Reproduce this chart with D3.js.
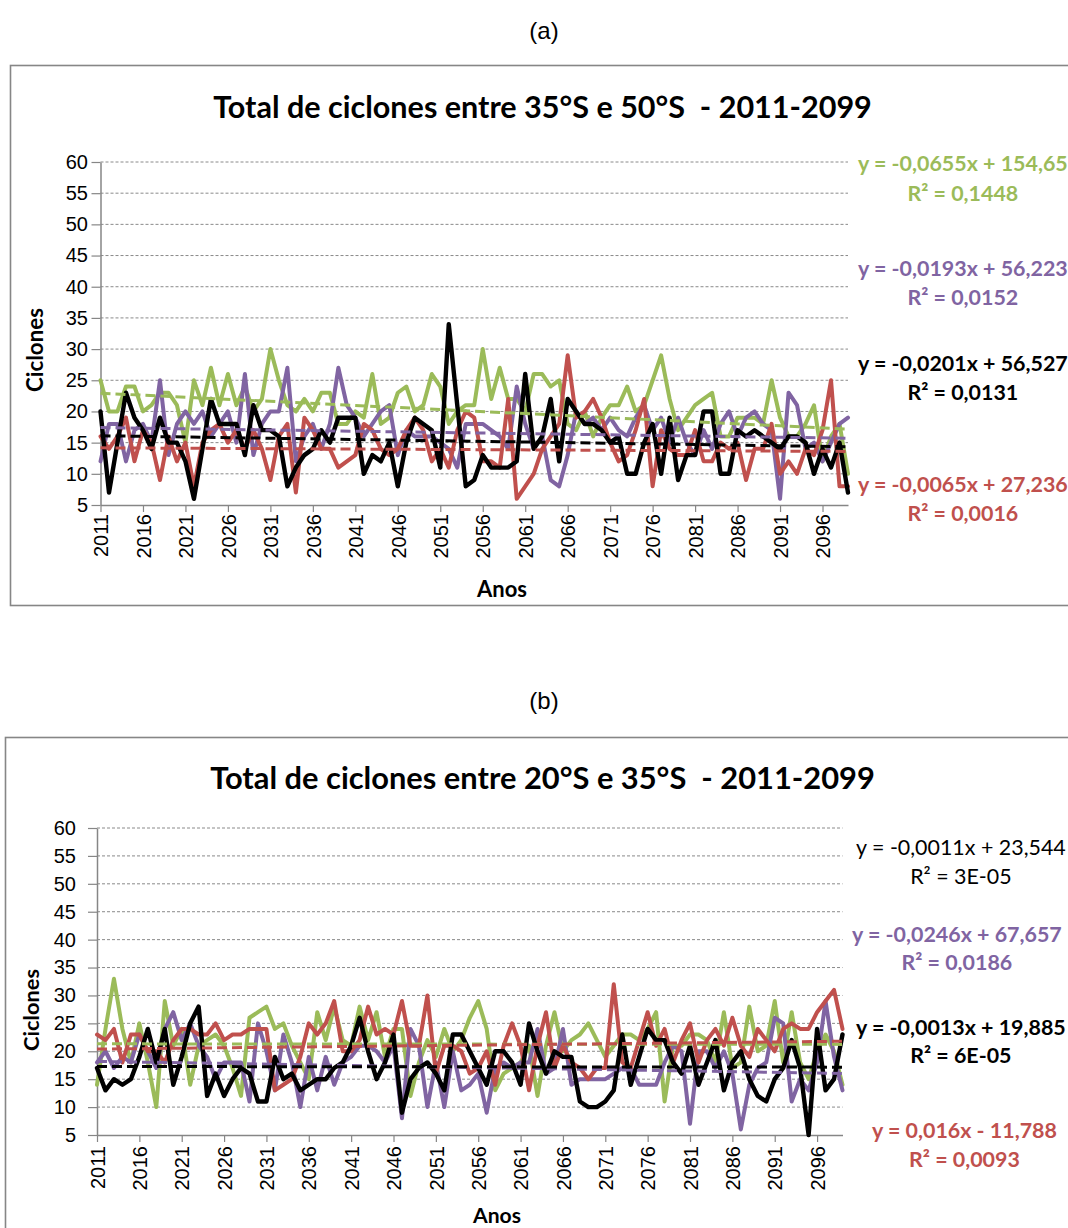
<!DOCTYPE html>
<html><head><meta charset="utf-8">
<script src="https://cdn.jsdelivr.net/npm/d3@7/dist/d3.min.js"></script>
<style>body{margin:0;background:#fff}svg{display:block}text{white-space:pre}</style>
</head><body>
<svg id="c" width="1068" height="1228"></svg>
<script>
// ---------------- DATA ----------------
const categories = d3.range(2011, 2100).map(String);   // 2011 ... 2099
const xTickLabels = ["2011","2016","2021","2026","2031","2036","2041","2046","2051","2056","2061","2066","2071","2076","2081","2086","2091","2096"];
const yTicks = [5,10,15,20,25,30,35,40,45,50,55,60];
const seriesNames = ["green","purple","red","black"];

// Panel (a): 35°S – 50°S
const aGreen = [25,20,20,24,24,20,21,23,23,21, 15,25,21,27,21,26,21,24,20,22, 30,25,21,20,22,20,23,23,18,18,
  20,19,26,18,19,23,24,20,21,26, 24,18,20,21,21,30,22,27,22,22, 20,26,26,24,25,18,17,20,16,19,
  21,21,24,20,21,25,29,22,17,19, 21,22,23,16,16,19,19,19,18,25, 19,16,16,18,21,12,16,18,10];
const aPurple = [12,18,18,12,17,18,15,25,13,18, 20,18,20,16,18,20,15,26,13,18, 20,20,27,12,16,18,14,18,27,21,
  19,16,18,20,21,13,17,16,16,16, 15,14,11,18,18,18,17,16,14,24, 18,14,16,9,8,13,20,18,19,17,
  19,17,16,19,21,17,19,15,19,15, 13,17,14,18,20,16,19,20,18,17, 6,23,21,14,15,12,15,18,19];
const aRed = [16,14,16,19,12,17,15,9,16,12, 15,8,15,17,18,15,17,14,17,14, 9,16,18,7,19,17,14,14,11,12,
  13,18,17,14,13,14,17,19,17,12, 14,11,17,20,19,12,12,11,22,6, 8,10,14,16,18,29,19,20,22,19,
  15,12,13,17,22,8,17,14,13,13, 17,12,12,15,14,15,9,14,14,18, 10,12,10,14,13,17,25,8,8];
const aBlack = [20,7,15,23,19,17,14,19,15,15, 12,6,14,22,18,18,18,13,21,17, 17,16,8,11,13,14,17,15,19,19,
  19,10,13,12,15,8,15,19,18,17, 11,34,21,8,9,13,11,11,11,12, 26,14,16,22,12,22,20,18,18,17,
  15,16,10,10,15,18,10,19,9,13, 13,20,20,10,10,17,16,17,16,15, 14,16,16,15,10,14,11,15,7];
const aSlopes = [-0.0655, -0.0193, -0.0065, -0.0201];
const aIntercepts = [154.65, 56.223, 27.236, 56.527];
const aEquations = ["y = -0,0655x + 154,65", "y = -0,0193x + 56,223", "y = -0,0201x + 56,527", "y = -0,0065x + 27,236"];
const aR2 = ["R² = 0,1448", "R² = 0,0152", "R² = 0,0131", "R² = 0,0016"];
const aEqSeries = ["green","purple","black","red"];

// Panel (b): 20°S – 35°S
const bGreen = [14,24,33,24,18,25,18,10,29,21, 24,14,21,22,23,21,17,12,26,27, 28,24,25,21,18,15,27,22,28,22,
  21,28,22,27,19,24,24,12,18,22, 19,24,20,22,26,29,24,13,16,17, 18,21,12,21,27,20,22,23,25,22,
  19,21,23,23,22,24,27,11,21,21, 23,23,22,18,27,17,18,28,20,21, 29,18,27,18,15,20,23,20,14];
const bPurple = [18,20,17,19,18,23,20,17,24,27, 22,25,21,19,15,18,18,18,11,25, 20,13,23,18,10,19,13,19,14,18,
  19,21,21,20,18,21,8,24,21,10, 18,10,20,13,14,16,9,17,18,17, 18,18,24,16,17,24,14,15,15,15,
  15,16,17,17,14,14,14,18,21,20, 7,20,20,17,20,16,6,14,17,18, 26,25,11,15,13,18,29,19,13];
const bRed = [23,22,24,18,23,23,20,20,18,22, 24,24,23,23,25,22,23,23,24,24, 24,13,14,15,19,25,23,25,29,20,
  20,22,28,23,24,23,29,21,21,30, 16,21,21,20,16,17,20,14,21,25, 21,13,21,27,17,21,18,17,15,17,
  17,32,18,17,22,27,21,24,18,22, 25,18,22,24,21,26,21,19,24,22, 20,24,25,24,24,27,29,31,24];
const bBlack = [17,13,15,14,15,19,24,18,24,14, 19,25,28,12,16,12,15,17,16,11, 11,19,15,16,13,14,15,15,17,18,
  21,26,20,15,18,23,9,15,17,18, 16,13,23,23,20,17,14,20,20,18, 14,25,20,16,20,19,19,11,10,10,
  11,13,23,14,19,24,22,22,18,16, 21,14,18,22,13,18,20,15,12,11, 15,17,22,17,5,24,13,15,23];
const bSlopes = [-0.0011, -0.0246, 0.016, -0.0013];
const bIntercepts = [23.544, 67.657, -11.788, 19.885];
const bEquations = ["y = -0,0011x + 23,544", "y = -0,0246x + 67,657", "y = -0,0013x + 19,885", "y = 0,016x - 11,788"];
const bR2 = ["R² = 3E-05", "R² = 0,0186", "R² = 6E-05", "R² = 0,0093"];
const bEqSeries = ["plain","purple","black","red"];

// ---------------- STYLE / LAYOUT ----------------
const colors = {green:"#9BBB59", purple:"#8064A2", red:"#C0504D", black:"#000000", plain:"#000000"};
const SANS = "'Liberation Sans', Arial, sans-serif";
const CAL = "Lato, 'Liberation Sans', sans-serif";
const grey = "#868686";

const layoutA = {
  label:{text:"(a)", x:544, y:30}, frame:{x:10.5, y:65.5, w:1100, h:540},
  title:{text:"Total de ciclones entre 35°S e 50°S  - 2011-2099", x:542.5, y:106, w:659},
  x0:100.5, x1:848, yBot:505, yTop:162, yLabRight:88, xLabTop:514,
  yTitle:{x:34, y:350, w:84}, xTitle:{x:502, y:588, w:50},
  eq:[{x:858,y1:163,y2:193},{x:858,y1:268,y2:297},{x:858,y1:363,y2:392},{x:858,y1:484,y2:513}]
};
const layoutB = {
  label:{text:"(b)", x:544, y:700}, frame:{x:5.5, y:737.5, w:1100, h:540},
  title:{text:"Total de ciclones entre 20°S e 35°S  - 2011-2099", x:542.5, y:777, w:665},
  x0:97, x1:842.5, yBot:1135, yTop:828, yLabRight:76, xLabTop:1146,
  yTitle:{x:30, y:1010, w:82}, xTitle:{x:497, y:1214, w:48},
  eq:[{x:856,y1:847,y2:876},{x:852,y1:934,y2:962},{x:856,y1:1027,y2:1055},{x:872,y1:1130,y2:1159}]
};

const svg = d3.select("#c");

function fitWidth(sel, target){
  const w = sel.node().getComputedTextLength();
  const fs = parseFloat(sel.attr("font-size"));
  if (w > 0) sel.attr("font-size", fs * target / w);
}

// common equation font size, chosen so the longest equation still fits inside the page
const probe = svg.append("text").attr("font-family", CAL).attr("font-weight","bold").attr("font-size", 20).text(bEquations[3]);
fitWidth(probe, 185);
const EQ_FS = parseFloat(probe.attr("font-size"));
probe.remove();

function drawPanel(L, series, slopes, intercepts, eqs, r2s, eqSeries){
  const g = svg.append("g");
  g.append("text").attr("x", L.label.x).attr("y", L.label.y).attr("text-anchor","middle")
    .attr("dominant-baseline","central").attr("font-family", SANS).attr("font-size", 24).text(L.label.text);
  g.append("rect").attr("x", L.frame.x).attr("y", L.frame.y).attr("width", L.frame.w).attr("height", L.frame.h)
    .attr("fill","#fff").attr("stroke", grey).attr("stroke-width", 1.6);
  const t = g.append("text").attr("x", L.title.x).attr("y", L.title.y).attr("text-anchor","middle")
    .attr("dominant-baseline","central").attr("font-family", CAL).attr("font-weight","bold")
    .attr("font-size", 28).attr("fill","#000").text(L.title.text);
  fitWidth(t, L.title.w);

  const x = d3.scalePoint().domain(categories).range([L.x0, L.x1]);
  const y = d3.scaleLinear().domain([5, 60]).range([L.yBot, L.yTop]);

  // gridlines
  g.append("g").selectAll("line").data(yTicks.filter(v => v > 5)).join("line")
    .attr("x1", L.x0).attr("x2", L.x1).attr("y1", d => y(d)).attr("y2", d => y(d))
    .attr("stroke", "#8a8a8a").attr("stroke-width", 1).attr("stroke-dasharray", "3,2");

  // y axis
  const ya = g.append("g").attr("transform", `translate(${L.x0},0)`)
    .call(d3.axisLeft(y).tickValues(yTicks).tickSize(9).tickSizeOuter(0).tickPadding(L.x0 - L.yLabRight - 9));
  ya.select(".domain").attr("stroke", grey).attr("stroke-width", 1.5);
  ya.selectAll(".tick line").attr("stroke", grey).attr("stroke-width", 1.2);
  ya.selectAll(".tick text").attr("font-family", SANS).attr("font-size", 20).attr("fill", "#000");

  // x axis
  const xa = g.append("g").attr("transform", `translate(0,${L.yBot})`)
    .call(d3.axisBottom(x).tickValues(xTickLabels).tickSize(7).tickSizeOuter(0));
  xa.select(".domain").attr("stroke", grey).attr("stroke-width", 1.5);
  xa.selectAll(".tick line").attr("stroke", grey).attr("stroke-width", 1.2);
  xa.selectAll(".tick text").attr("font-family", SANS).attr("font-size", 20).attr("fill", "#000")
    .attr("transform", "rotate(-90)").attr("text-anchor", "end")
    .attr("x", -(L.xLabTop - L.yBot)).attr("y", 0).attr("dy", "0.36em");

  // axis titles
  const yt = g.append("text").attr("transform", `translate(${L.yTitle.x},${L.yTitle.y}) rotate(-90)`)
    .attr("text-anchor","middle").attr("dominant-baseline","central").attr("font-family", CAL)
    .attr("font-weight","bold").attr("font-size", 20).text("Ciclones");
  fitWidth(yt, L.yTitle.w);
  const xt = g.append("text").attr("x", L.xTitle.x).attr("y", L.xTitle.y)
    .attr("text-anchor","middle").attr("dominant-baseline","central").attr("font-family", CAL)
    .attr("font-weight","bold").attr("font-size", 20).text("Anos");
  fitWidth(xt, L.xTitle.w);

  // series lines
  const line = d3.line().x((d, i) => x(categories[i])).y(d => y(d)).curve(d3.curveLinear);
  series.forEach((s, k) => {
    g.append("path").datum(s).attr("d", line).attr("fill","none")
      .attr("stroke", colors[seriesNames[k]]).attr("stroke-width", seriesNames[k] === "black" ? 4.4 : 4)
      .attr("stroke-linejoin","round").attr("stroke-linecap","round");
  });
  // trend lines
  const ends = [categories[0], categories[categories.length - 1]];
  series.forEach((s, k) => {
    const pts = ends.map(c => ({c, v: slopes[k] * (+c) + intercepts[k]}));
    g.append("path").datum(pts)
      .attr("d", d3.line().x(d => x(d.c)).y(d => y(d.v)))
      .attr("fill","none").attr("stroke", colors[seriesNames[k]]).attr("stroke-width", 3)
      .attr("stroke-dasharray", "10,5");
  });

  // trendline equations
  eqs.forEach((e, k) => {
    const P = L.eq[k];
    const col = colors[eqSeries[k]];
    const wt = eqSeries[k] === "plain" ? "normal" : "bold";
    const t1 = g.append("text").attr("x", P.x).attr("y", P.y1).attr("dominant-baseline","central")
      .attr("font-family", CAL).attr("font-weight", wt).attr("font-size", EQ_FS).attr("fill", col).text(e);
    const w1 = t1.node().getComputedTextLength();
    g.append("text").attr("x", P.x + w1 / 2).attr("y", P.y2).attr("dominant-baseline","central")
      .attr("text-anchor","middle").attr("font-family", CAL).attr("font-weight", wt)
      .attr("font-size", EQ_FS).attr("fill", col).text(r2s[k]);
  });
}

drawPanel(layoutA, [aGreen, aPurple, aRed, aBlack], aSlopes, aIntercepts, aEquations, aR2, aEqSeries);
drawPanel(layoutB, [bGreen, bPurple, bRed, bBlack], bSlopes, bIntercepts, bEquations, bR2, bEqSeries);
</script>
</body></html>
